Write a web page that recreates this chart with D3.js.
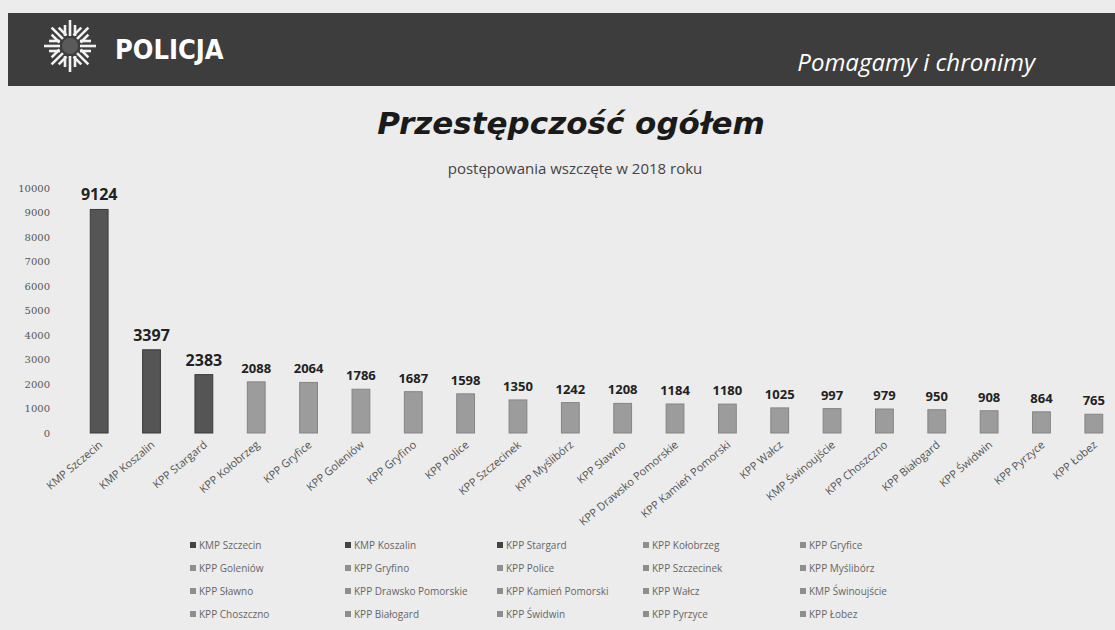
<!DOCTYPE html>
<html>
<head>
<meta charset="utf-8">
<script src="https://cdn.jsdelivr.net/npm/d3@7"></script>
<style>
  body { margin: 0; background: #ececec; }
  svg { display: block; }
</style>
</head>
<body>
<svg id="chart"></svg>
<script>
// data
const units = ["KMP Szczecin", "KMP Koszalin", "KPP Stargard", "KPP Kołobrzeg", "KPP Gryfice",
  "KPP Goleniów", "KPP Gryfino", "KPP Police", "KPP Szczecinek", "KPP Myślibórz",
  "KPP Sławno", "KPP Drawsko Pomorskie", "KPP Kamień Pomorski", "KPP Wałcz", "KMP Świnoujście",
  "KPP Choszczno", "KPP Białogard", "KPP Świdwin", "KPP Pyrzyce", "KPP Łobez"]
const cases = [9124, 3397, 2383, 2088, 2064, 1786, 1687, 1598, 1350, 1242,
  1208, 1184, 1180, 1025, 997, 979, 950, 908, 864, 765]
const yTicks = [0, 1000, 2000, 3000, 4000, 5000, 6000, 7000, 8000, 9000, 10000]
const cityUnits = ["KMP Szczecin", "KMP Koszalin", "KPP Stargard"]

let W = 1115, H = 630

let svg = d3.select("#chart").attr("width", W).attr("height", H)

svg.append("rect").attr("width", W).attr("height", H).attr("fill", "#ececec")

// header band
svg.append("rect")
  .attr("x", 8).attr("y", 13).attr("width", W - 8).attr("height", 73)
  .attr("fill", "#3d3d3d")

// police star logo
let logo = svg.append("g").attr("transform", "translate(70,46)")
for (let i = 0; i < 8; i++) {
  let g = logo.append("g").attr("transform", "rotate(" + (i * 45) + ")")
  for (let k = -1; k <= 1; k++) {
    g.append("line")
      .attr("x1", k * 5).attr("y1", -10)
      .attr("x2", k * 5).attr("y2", k === 0 ? -26 : -21)
      .attr("stroke", "#f2f2f2").attr("stroke-width", 2.6)
  }
}
logo.append("circle").attr("r", 8).attr("fill", "#5a5a5a")

svg.append("text")
  .attr("x", 115).attr("y", 59)
  .attr("font-family", "DejaVu Sans Condensed, DejaVu Sans, sans-serif")
  .attr("font-weight", "bold").attr("font-size", 27)
  .attr("fill", "#fff")
  .text("POLICJA")

svg.append("text")
  .attr("x", 1035).attr("y", 71).attr("text-anchor", "end")
  .attr("font-family", "Open Sans, sans-serif")
  .attr("font-style", "italic").attr("font-size", 24)
  .attr("fill", "#fff")
  .text("Pomagamy i chronimy")

// titles
svg.append("text")
  .attr("x", 571).attr("y", 134).attr("text-anchor", "middle")
  .attr("font-family", "DejaVu Sans, sans-serif")
  .attr("font-weight", "bold").attr("font-style", "italic").attr("font-size", 31)
  .attr("fill", "#1a1a1a")
  .text("Przestępczość ogółem")

svg.append("text")
  .attr("x", 575).attr("y", 174).attr("text-anchor", "middle")
  .attr("font-family", "Open Sans, sans-serif")
  .attr("font-size", 15)
  .attr("fill", "#444")
  .text("postępowania wszczęte w 2018 roku")

// scales
let x = d3.scaleBand()
  .domain(units)
  .range([73, 1120])
  .paddingInner(0.66)
  .paddingOuter(0.33)

let y = d3.scaleLinear()
  .domain([0, 10000])
  .range([433, 188])

let yAxis = d3.axisLeft(y).tickValues(yTicks).tickFormat(d3.format("d")).tickSize(0).tickPadding(0)

let axisG = svg.append("g")
  .attr("transform", "translate(50,0)")
  .call(yAxis)
axisG.select(".domain").remove()
axisG.selectAll("text")
  .attr("font-family", "DejaVu Serif, serif")
  .attr("font-size", 10)
  .attr("fill", "#555")

// bars
svg.selectAll("rect.bar")
  .data(units)
  .enter().append("rect")
  .attr("class", "bar")
  .attr("x", d => x(d))
  .attr("width", x.bandwidth())
  .attr("y", (d, i) => y(cases[i]))
  .attr("height", (d, i) => y(0) - y(cases[i]))
  .attr("fill", d => cityUnits.includes(d) ? "#555555" : "#9c9c9c")
  .attr("stroke", d => cityUnits.includes(d) ? "#3a3a3a" : "#858585")
  .attr("stroke-width", 1)

// value labels
svg.selectAll("text.val")
  .data(units)
  .enter().append("text")
  .attr("class", "val")
  .attr("x", d => x(d) + x.bandwidth() / 2)
  .attr("y", (d, i) => y(cases[i]) - 9)
  .attr("text-anchor", "middle")
  .attr("font-family", "Open Sans, sans-serif")
  .attr("font-weight", "bold")
  .attr("font-size", (d, i) => i < 3 ? 16 : 13)
  .attr("fill", "#222")
  .text((d, i) => cases[i])

// category labels
svg.selectAll("text.cat")
  .data(units)
  .enter().append("text")
  .attr("class", "cat")
  .attr("transform", d => "translate(" + (x(d) + x.bandwidth() / 2 + 4) + ",446) rotate(-40)")
  .attr("text-anchor", "end")
  .attr("font-family", "Open Sans, sans-serif")
  .attr("font-size", 11)
  .attr("fill", "#555")
  .text(d => d)

// legend, 5 columns, row-major
let legX = [190, 345, 497, 643, 800]
let legY = [549, 572, 595, 618]
let leg = svg.selectAll("g.leg")
  .data(units)
  .enter().append("g")
  .attr("class", "leg")
  .attr("transform", (d, i) => "translate(" + legX[i % 5] + "," + legY[Math.floor(i / 5)] + ")")

leg.append("rect")
  .attr("x", 0).attr("y", -7).attr("width", 6).attr("height", 6)
  .attr("fill", d => cityUnits.includes(d) ? "#444" : "#8e8e8e")

leg.append("text")
  .attr("x", 9).attr("y", 0)
  .attr("font-family", "Open Sans, sans-serif")
  .attr("font-size", 10)
  .attr("fill", "#666")
  .text(d => d)
</script>
</body>
</html>
